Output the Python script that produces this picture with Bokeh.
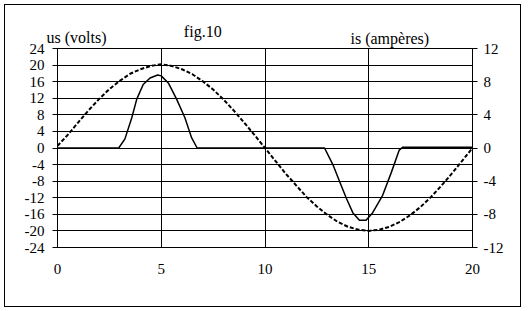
from bokeh.plotting import figure
from bokeh.models import (Range1d, LinearAxis, FixedTicker, Label)
from bokeh.embed import file_html
from bokeh.resources import INLINE

# ---- data ----
t_volt = [0, 0.5, 1, 1.5, 2, 2.5, 3, 3.5, 4, 4.5, 5, 5.5, 6, 6.5, 7, 7.5, 8, 8.5, 9, 9.5,
          10, 10.5, 11, 11.5, 12, 12.5, 13, 13.5, 14, 14.5, 15, 15.5, 16, 16.5, 17, 17.5,
          18, 18.5, 19, 19.5, 20]
us_volts = [0.5, 3.2, 6.2, 9.1, 11.8, 14.2, 16.2, 17.9, 19.0, 19.8, 20.2, 19.8, 19.0, 17.8,
            16.1, 14.1, 11.7, 9.0, 6.1, 3.1, 0.0, -3.1, -6.2, -9.0, -11.8, -14.1, -16.1,
            -17.8, -19.0, -19.7, -20.0, -19.7, -19.0, -17.8, -16.2, -14.2, -11.8, -9.1,
            -6.2, -3.1, 0.0]

t_amp = [0, 2.95, 3.25, 3.58, 3.82, 4.13, 4.46, 4.83, 5.0, 5.34, 5.74, 6.14, 6.46, 6.73,
         12.87, 13.27, 13.59, 13.91, 14.23, 14.55, 14.87, 15.19, 15.67, 16.08, 16.47,
         16.64, 20]
is_amps = [0, 0, 1.1, 3.65, 5.9, 7.65, 8.45, 8.8, 8.7, 7.85, 5.9, 3.65, 1.25, 0,
           0, -2.0, -4.0, -6.0, -7.8, -8.7, -8.7, -7.8, -5.7, -3.0, -0.25, 0.1, 0.1]

x_ticks = [0, 5, 10, 15, 20]
volt_ticks = [-24, -20, -16, -12, -8, -4, 0, 4, 8, 12, 16, 20, 24]
amp_ticks = [-12, -8, -4, 0, 4, 8, 12]

title_text = "fig.10"
left_label = "us (volts)"
right_label = "is (ampères)"

FONT = "Liberation Serif, Times New Roman, DejaVu Serif, serif"

p = figure(width=525, height=311, output_backend="svg", toolbar_location=None,
           x_range=Range1d(0, 20), y_range=Range1d(-24, 24),
           min_border_left=57, min_border_right=53, min_border_top=48, min_border_bottom=64)
p.background_fill_color = "white"
p.border_fill_color = None
p.outline_line_color = "black"
p.outline_line_width = 1
# outer chart-area border
p.styles = {"outline": "1px solid black", "outline-offset": "-5px", "background": "white"}

p.extra_y_ranges = {"amp": Range1d(-12, 12)}

# axes
p.xaxis.ticker = FixedTicker(ticks=x_ticks)
p.yaxis.ticker = FixedTicker(ticks=volt_ticks)
p.yaxis.major_label_overrides = {v: str(v) for v in volt_ticks}
for ax in (p.xaxis[0], p.yaxis[0]):
    ax.axis_line_color = "black"
    ax.major_label_text_font = FONT
    ax.major_label_text_font_size = "15px"
    ax.major_label_text_color = "black"
    ax.minor_tick_line_color = None
p.xaxis.major_tick_out = 0
p.xaxis.major_tick_in = 0
p.xaxis.major_label_standoff = 16
p.yaxis.major_tick_out = 5
p.yaxis.major_tick_in = 0
p.yaxis.major_tick_line_color = "black"
p.yaxis.major_label_standoff = 8

raxis = LinearAxis(y_range_name="amp", ticker=FixedTicker(ticks=amp_ticks))
raxis.major_label_overrides = {v: str(v) for v in amp_ticks}
raxis.axis_line_color = "black"
raxis.major_tick_out = 5
raxis.major_tick_in = 0
raxis.minor_tick_line_color = None
raxis.major_label_text_font = FONT
raxis.major_label_text_font_size = "15px"
raxis.major_label_text_color = "black"
raxis.major_label_standoff = 6
p.add_layout(raxis, "right")

# grid
p.xgrid.ticker = FixedTicker(ticks=x_ticks)
p.ygrid.ticker = FixedTicker(ticks=volt_ticks)
p.xgrid.grid_line_color = "black"
p.ygrid.grid_line_color = "black"
p.xgrid.grid_line_alpha = 1
p.ygrid.grid_line_alpha = 1

# series
p.line(t_volt, us_volts, line_color="black", line_width=2, line_dash="4 2")
p.line(t_amp, is_amps, y_range_name="amp", line_color="black", line_width=1.5)

# texts placed in side panels (not clipped), positioned in data coordinates
def make_label(txt, x, y, align):
    return Label(x=x, y=y, text=txt, text_font=FONT, text_font_size="16px",
                 text_color="black", text_align=align, text_baseline="alphabetic")

p.add_layout(make_label(left_label, -0.53, 26.6, "left"), "above")
p.add_layout(make_label(right_label, 14.12, 26.4, "left"), "above")
p.add_layout(make_label(title_text, 7.0, 28.1, "center"), "below")

open("out.html", "w").write(file_html(p, INLINE))
